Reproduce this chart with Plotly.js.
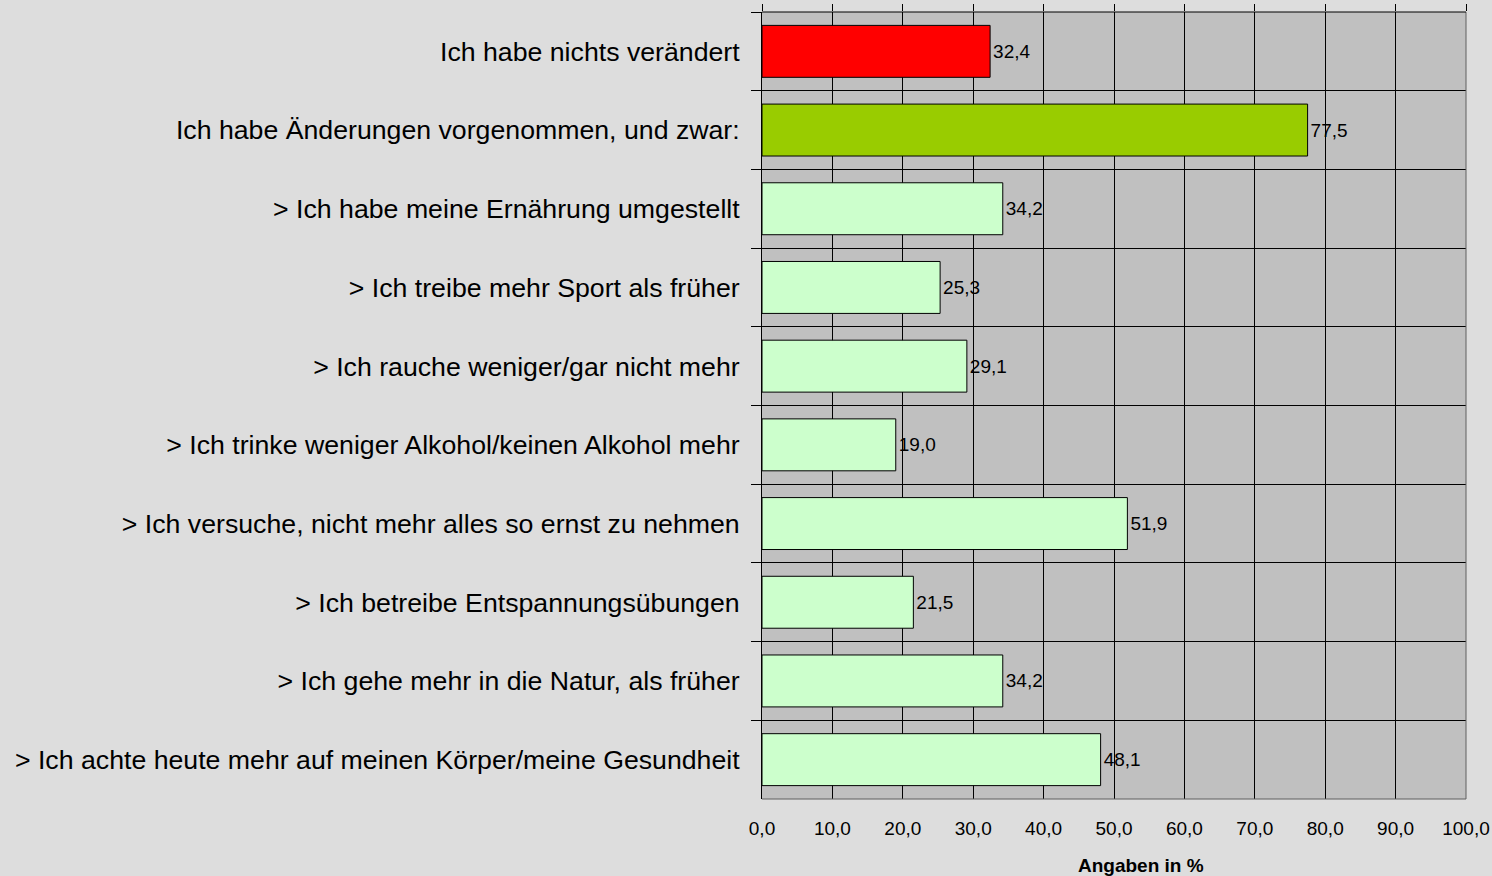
<!DOCTYPE html>
<html>
<head>
<meta charset="utf-8">
<script src="https://cdn.plot.ly/plotly-3.0.1.min.js"></script>
<style>html,body{margin:0;padding:0;background:#dddddd;}#chart{width:1492px;height:876px;}</style>
</head>
<body>
<div id="chart"></div>
<script>
const categories = [
  "Ich habe nichts verändert",
  "Ich habe Änderungen vorgenommen, und zwar:",
  "> Ich habe meine Ernährung umgestellt",
  "> Ich treibe mehr Sport als früher",
  "> Ich rauche weniger/gar nicht mehr",
  "> Ich trinke weniger Alkohol/keinen Alkohol mehr",
  "> Ich versuche, nicht mehr alles so ernst zu nehmen",
  "> Ich betreibe Entspannungsübungen",
  "> Ich gehe mehr in die Natur, als früher",
  "> Ich achte heute mehr auf meinen Körper/meine Gesundheit"
];
const values = [32.4, 77.5, 34.2, 25.3, 29.1, 19.0, 51.9, 21.5, 34.2, 48.1];
const barColors = ["#ff0000", "#99cc00", "#ccffcc", "#ccffcc", "#ccffcc", "#ccffcc", "#ccffcc", "#ccffcc", "#ccffcc", "#ccffcc"];
const xTitle = "Angaben in %";

const font = "Liberation Sans, Arial, sans-serif";

const trace = {
  type: "bar",
  orientation: "h",
  y: categories,
  x: values,
  marker: { color: barColors, line: { color: "#000000", width: 1 } },
  texttemplate: "%{x:.1f}",
  textposition: "outside",
  cliponaxis: false,
  textfont: { family: font, size: 19, color: "#000000" },
  hoverinfo: "none"
};

// invisible companion trace that only activates the top tick axis
const topAxisTrace = {
  type: "scatter",
  mode: "none",
  x: values,
  y: categories,
  xaxis: "x2",
  yaxis: "y",
  hoverinfo: "none",
  showlegend: false
};

const layout = {
  width: 1492, height: 876,
  paper_bgcolor: "#dddddd",
  plot_bgcolor: "#c0c0c0",
  separators: ",.",
  margin: { l: 762, r: 26, t: 12, b: 77 },
  bargap: 0.34,
  showlegend: false,
  font: { family: font, color: "#000000" },
  xaxis: {
    range: [0, 100], dtick: 10, tick0: 0, tickformat: ".1f",
    showgrid: true, gridcolor: "#000000", gridwidth: 1,
    zeroline: false, showline: false,
    ticks: "", ticklabelstandoff: 16,
    tickfont: { family: font, size: 19, color: "#000000" },
    fixedrange: true
  },
  xaxis2: {
    overlaying: "x", side: "top", range: [0, 100], dtick: 10, tick0: 0,
    ticks: "outside", ticklen: 7, tickcolor: "#000000", tickwidth: 1,
    showticklabels: false, showgrid: false, zeroline: false, showline: false
  },
  yaxis: {
    type: "category", autorange: "reversed",
    tickson: "boundaries", ticks: "outside", ticklen: 10, tickcolor: "#000000",
    showgrid: true, gridcolor: "#000000", gridwidth: 1,
    showline: true, linecolor: "#000000", linewidth: 1,
    zeroline: false, ticklabelstandoff: 16,
    tickfont: { family: font, size: 26.7, color: "#000000" },
    fixedrange: true
  },
  shapes: [
    { type: "line", xref: "paper", yref: "paper", x0: 1, x1: 1, y0: 0, y1: 1, line: { color: "#606060", width: 1 } },
    { type: "line", xref: "paper", yref: "paper", x0: 0, x1: 1, y0: 0, y1: 0, line: { color: "#606060", width: 1 } },
    { type: "line", xref: "paper", yref: "paper", x0: 0, x1: 1, y0: 1, y1: 1, line: { color: "#000000", width: 1 } }
  ],
  annotations: [
    { text: "<b>" + xTitle + "</b>", xref: "paper", yref: "paper", x: 0.538, y: -0.0839,
      xanchor: "center", yanchor: "middle", showarrow: false,
      font: { family: font, size: 19, color: "#000000" } }
  ]
};

Plotly.newPlot("chart", [trace, topAxisTrace], layout, { displayModeBar: false, staticPlot: true });
</script>
</body>
</html>
